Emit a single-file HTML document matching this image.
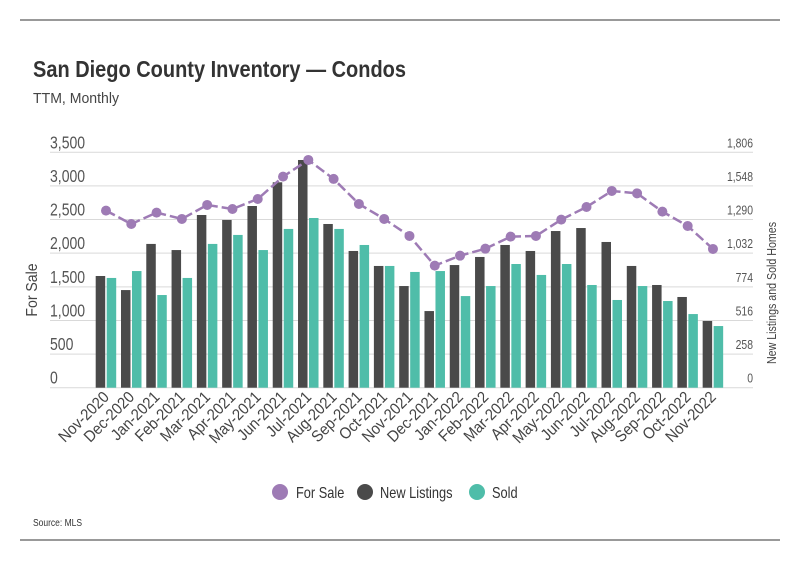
<!DOCTYPE html>
<html><head><meta charset="utf-8">
<style>
html,body{margin:0;padding:0;background:#fff;}
svg{display:block;font-family:"Liberation Sans Narrow","Liberation Sans",sans-serif;}
</style></head>
<body>
<svg id="chart" width="799" height="575" viewBox="0 0 799 575">
  <line x1="20" y1="20" x2="780" y2="20" stroke="#333" stroke-width="1"/>
  <line x1="20" y1="540" x2="780" y2="540" stroke="#333" stroke-width="1"/>
  <text x="33" y="77" font-size="23" font-weight="bold" fill="#333" textLength="373" lengthAdjust="spacingAndGlyphs">San Diego County Inventory — Condos</text>
  <text x="33" y="103" font-size="15" fill="#444" textLength="86" lengthAdjust="spacingAndGlyphs">TTM, Monthly</text>
  <g id="grid"></g>
  <g id="bars"></g>
  <g id="line"></g>
  <g id="xlabels"></g>
  <text transform="translate(37,290) rotate(-90) scale(0.88,1)" text-anchor="middle" font-size="16" fill="#444">For Sale</text>
  <text transform="translate(776,293) rotate(-90) scale(0.82,1)" text-anchor="middle" font-size="13" fill="#444">New Listings and Sold Homes</text>
  <g>
    <g>
      <circle cx="280" cy="492" r="8" fill="#9e7bb5"/>
      <text transform="translate(296,498) scale(0.8,1)" font-size="16" fill="#333">For Sale</text>
    </g>
    <g>
      <circle cx="365" cy="492" r="8" fill="#4a4a4a"/>
      <text transform="translate(380,498) scale(0.8,1)" font-size="16" fill="#333">New Listings</text>
    </g>
    <g>
      <circle cx="477" cy="492" r="8" fill="#4fbda9"/>
      <text transform="translate(492,498) scale(0.8,1)" font-size="16" fill="#333">Sold</text>
    </g>
  </g>
  <text transform="translate(33,526) scale(0.85,1)" font-size="10" fill="#333">Source:  MLS</text>
</svg>
<script>
const categories = ["Nov-2020","Dec-2020","Jan-2021","Feb-2021","Mar-2021","Apr-2021","May-2021","Jun-2021","Jul-2021","Aug-2021","Sep-2021","Oct-2021","Nov-2021","Dec-2021","Jan-2022","Feb-2022","Mar-2022","Apr-2022","May-2022","Jun-2022","Jul-2022","Aug-2022","Sep-2022","Oct-2022","Nov-2022"];
const forSale = [2633,2434,2603,2509,2717,2657,2806,3138,3386,3104,2732,2509,2256,1815,1963,2067,2246,2256,2499,2687,2925,2890,2618,2405,2063];
const newListings = [857,749,1103,1056,1325,1287,1394,1576,1747,1256,1049,934,780,588,941,1003,1095,1049,1202,1225,1118,934,788,696,512];
const sold = [842,895,711,842,1103,1172,1056,1218,1302,1218,1095,934,888,895,703,780,949,865,949,788,673,780,665,565,473];
const leftTicks = ["0","500","1,000","1,500","2,000","2,500","3,000","3,500"];
const rightTicks = ["0","258","516","774","1,032","1,290","1,548","1,806"];
const leftMax = 3500, rightMax = 1806;

const NS = "http://www.w3.org/2000/svg";
const y0 = 387.7, plotH = 235.4, gx0 = 50, gx1 = 753;
const yL = v => y0 - v / leftMax * plotH;
const yR = v => y0 - v / rightMax * plotH;
const xC = i => 106 + i * 25.29;
function mk(tag, attrs, parent){ const e=document.createElementNS(NS,tag); for(const k in attrs) e.setAttribute(k,attrs[k]); parent.appendChild(e); return e; }

const grid = document.getElementById('grid');
leftTicks.forEach((t,i)=>{
  const y = y0 - i*plotH/(leftTicks.length-1);
  const l = mk('line',{x1:gx0,x2:gx1,y1:y,y2:y,stroke:'#d9d9d9','stroke-width':1},grid);
  
  
  const tl = mk('text',{transform:`translate(50,${y-4}) scale(0.78,1)`,'font-size':18,fill:'#555'},grid);
  tl.textContent = t;
  
  
});
rightTicks.forEach((t,i)=>{
  const y = y0 - i*plotH/(rightTicks.length-1);
  const tr = mk('text',{transform:`translate(753,${y-5}) scale(0.8,1)`,'font-size':13,fill:'#555','text-anchor':'end'},grid);
  tr.textContent = t;
  
  
});

const bars = document.getElementById('bars');
categories.forEach((c,i)=>{
  const cx = xC(i);
  const b1 = mk('rect',{x:cx-10.3,y:yR(newListings[i]),width:9.5,height:y0-yR(newListings[i]),fill:'#4a4a4a'},bars);
  
  
  const b2 = mk('rect',{x:cx+0.7,y:yR(sold[i]),width:9.5,height:y0-yR(sold[i]),fill:'#4fbda9'},bars);
  
  
});

const lineG = document.getElementById('line');
const pts = forSale.map((v,i)=>xC(i)+','+yL(v)).join(' ');
const pl = mk('polyline',{points:pts,fill:'none',stroke:'#9e7bb5','stroke-width':2.5,'stroke-dasharray':'10 4'},lineG);


forSale.forEach((v,i)=>{
  const p = mk('circle',{cx:xC(i),cy:yL(v),r:5,fill:'#9e7bb5'},lineG);
  
  
});

const xl = document.getElementById('xlabels');
categories.forEach((c,i)=>{
  const t = mk('text',{transform:`translate(${xC(i)+4},398) rotate(-45) scale(0.92,1)`,'text-anchor':'end','font-size':16,fill:'#444'},xl);
  t.textContent = c;
  
  
});
</script>
</body></html>
